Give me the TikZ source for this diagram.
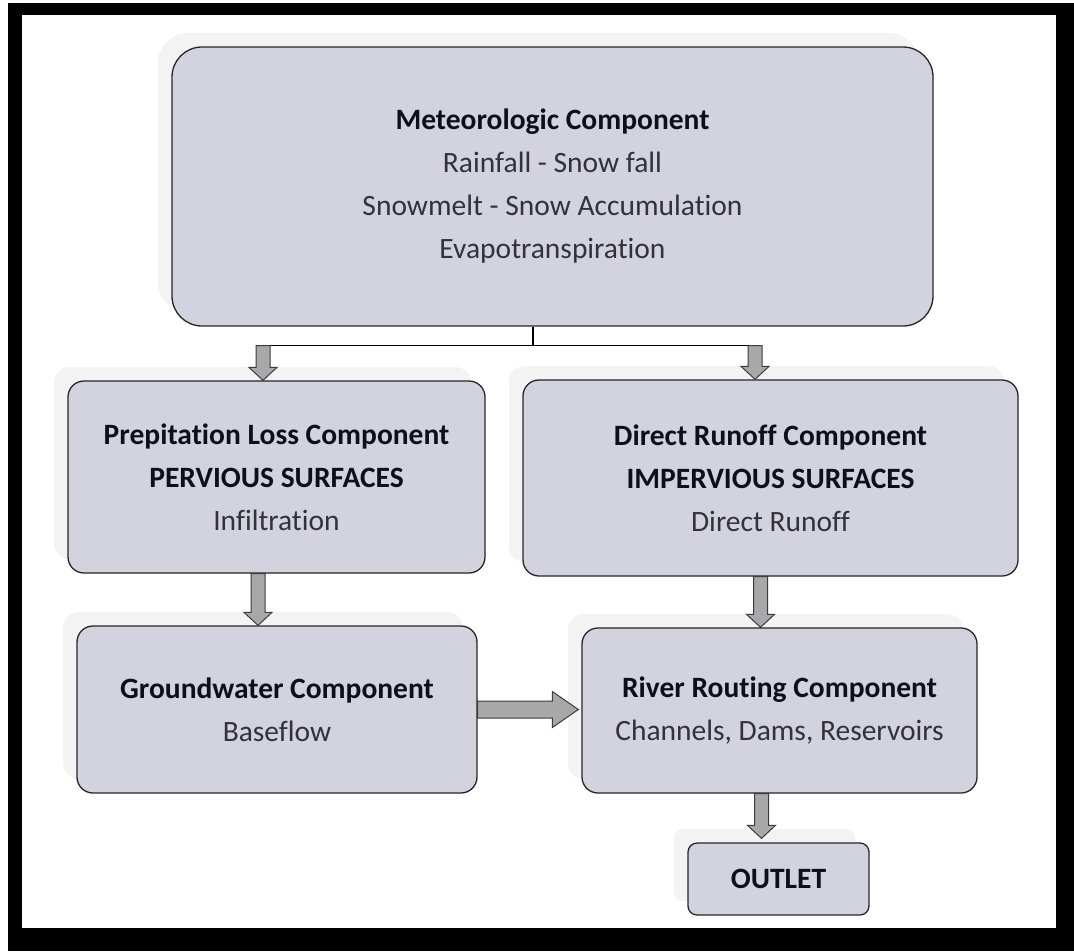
\documentclass[tikz,border=0pt]{standalone}
\usepackage{fontspec}
\setmainfont[Ligatures=NoCommon]{Carlito}
\usetikzlibrary{calc,shadows}
\definecolor{boxfill}{RGB}{211,210,223}
\definecolor{arrfill}{RGB}{168,168,170}
\definecolor{arredge}{RGB}{60,60,60}
\definecolor{txtreg}{RGB}{50,50,55}
\definecolor{txtbold}{RGB}{15,15,25}
\definecolor{shadowc}{RGB}{243,243,244}
\newcommand{\vblock}[2]{\filldraw[arrowbody] let \p1=#1, \p2=#2 in
  (\x1-7pt,\y1) -- (\x1+7pt,\y1) -- (\x1+7pt,\y2+13pt) -- (\x1+14pt,\y2+13pt)
  -- (\x1,\y2) -- (\x1-14pt,\y2+13pt) -- (\x1-7pt,\y2+13pt) -- cycle;}
\newcommand{\hblock}[2]{\filldraw[arrowbody] let \p1=#1, \p2=#2 in
  (\x1,\y1+8.5pt) -- (\x2-26pt,\y1+8.5pt) -- (\x2-26pt,\y1+18pt) -- (\x2,\y1)
  -- (\x2-26pt,\y1-18pt) -- (\x2-26pt,\y1-8.5pt) -- (\x1,\y1-8.5pt) -- cycle;}
\newcommand{\bt}[1]{\textcolor{txtbold}{\bfseries #1}}
\newcommand{\rt}[1]{\textcolor{txtreg}{#1}}
\begin{document}
\begin{tikzpicture}[x=1pt,y=-1pt,
  box/.style={draw=black!85, line width=1.3pt, fill=boxfill, rounded corners=16pt,
    inner sep=0pt, align=center, font=\fontsize{29.5}{43}\selectfont,
    drop shadow={shadow xshift=-14pt, shadow yshift=14pt, fill=shadowc, opacity=1}},
  arrowbody/.style={draw=arredge, fill=arrfill, line width=1pt, line join=miter},
  link/.style={draw=black, line width=1.6pt}]
\useasboundingbox (0,0) rectangle (1074,951);
\fill[black] (8,3) rectangle (1074,951);
\fill[white] (22,15) rectangle (1056,928);

\node[box, rounded corners=30pt, minimum width=761pt, minimum height=279pt] (met) at (552.5,186.5)
  {\bt{Meteorologic Component}\\ \rt{Rainfall - Snow fall}\\ \rt{Snowmelt - Snow Accumulation}\\ \rt{Evapotranspiration}};
\node[box, minimum width=417pt, minimum height=192pt] (pl) at (276.5,477)
  {\bt{Prepitation Loss Component}\\ \bt{PERVIOUS SURFACES}\\ \rt{Infiltration}};
\node[box, minimum width=495pt, minimum height=196pt] (dr) at (770.5,478)
  {\bt{Direct Runoff Component}\\ \bt{IMPERVIOUS SURFACES}\\ \rt{Direct Runoff}};
\node[box, minimum width=400pt, minimum height=167pt] (gw) at (277,709.5)
  {\bt{Groundwater Component}\\ \rt{Baseflow}};
\node[box, minimum width=395pt, minimum height=165pt] (rr) at (779.5,710.5)
  {\bt{River Routing Component}\\ \rt{Channels, Dams, Reservoirs}};
\node[box, rounded corners=9pt, minimum width=181pt, minimum height=72pt] (out) at (778.5,879)
  {\bt{OUTLET}};

% meteorologic split connector
\coordinate (ms) at ([xshift=-19.5pt]met.south);
\coordinate (jm) at ([yshift=-19pt]ms);
\coordinate (jl) at ([xshift=-13.5pt]pl.north |- jm);
\coordinate (jr) at ([xshift=-15.5pt]dr.north |- jm);
\draw[link] (ms) -- (jm);
\draw[link] ([xshift=-7pt]jl) -- ([xshift=7pt]jr);
\vblock{(jl)}{([xshift=-13.5pt]pl.north)}
\vblock{(jr)}{([xshift=-15.5pt]dr.north)}

% vertical block arrows
\vblock{([xshift=-18.5pt]pl.south)}{([xshift=-18.5pt]pl.south |- gw.north)}
\vblock{([xshift=-10pt]dr.south)}{([xshift=-10pt]dr.south |- rr.north)}
\vblock{([xshift=-18pt]rr.south)}{([xshift=-18pt,yshift=4pt]rr.south |- out.north)}

% horizontal block arrow
\hblock{(gw.east)}{([xshift=-3pt]gw.east -| rr.west)}
\end{tikzpicture}
\end{document}
